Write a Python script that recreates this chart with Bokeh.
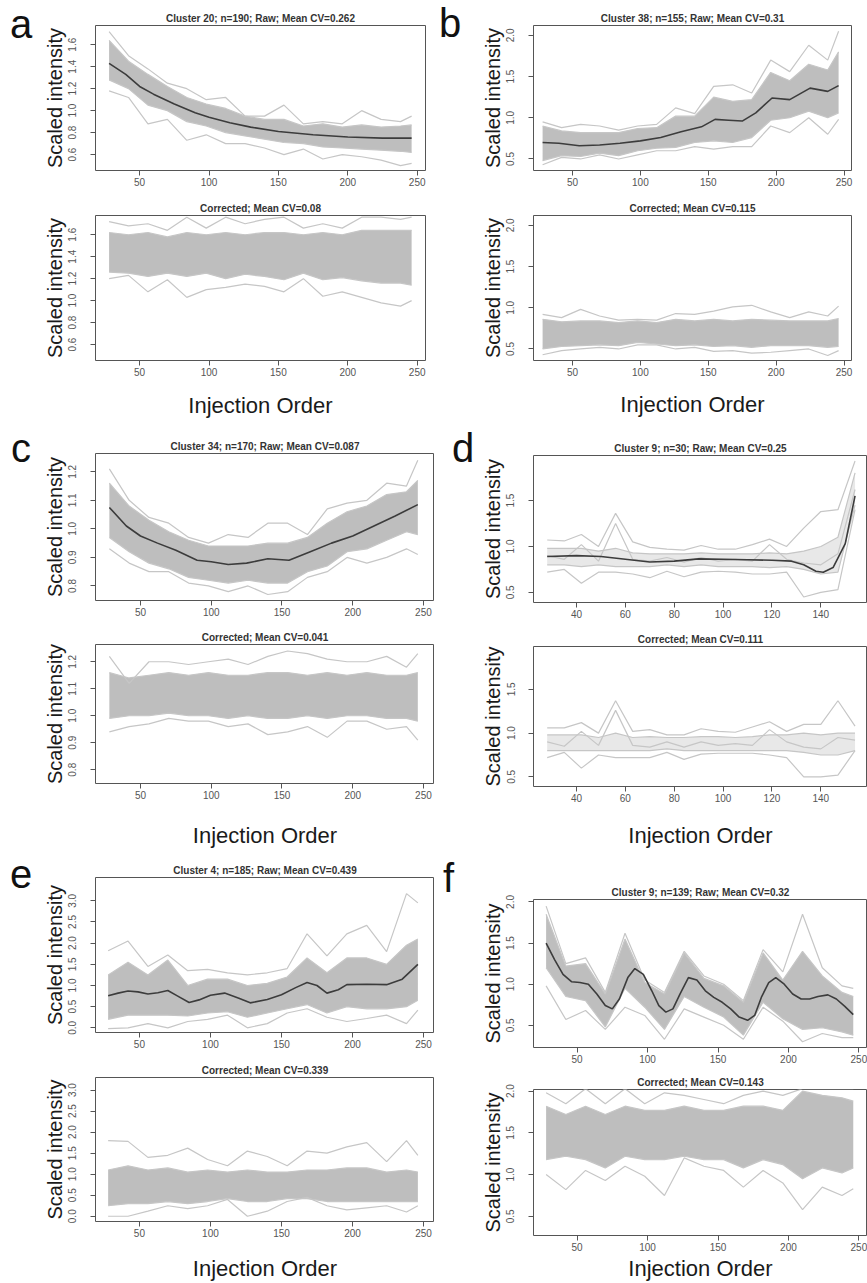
from bokeh.plotting import figure
from bokeh.layouts import column, row
from bokeh.models import Range1d, FixedTicker, NumeralTickFormatter, Div
from bokeh.embed import file_html
from bokeh.resources import INLINE

FONT = "Liberation Sans"
GRAY = "#bebebe"

# ---------------- data ----------------
X14 = [28, 42, 56, 70, 84, 98, 112, 126, 140, 154, 168, 182, 196, 210, 224, 238, 246]
X7 = [28, 35, 42, 49, 56, 63, 70, 77, 84, 91, 98, 105, 112, 119, 126, 133, 140, 147, 154]

X_TICKS_250 = [50, 100, 150, 200, 250]
X_TICKS_D = [40, 60, 80, 100, 120, 140]

# panel a
a_titles = ["Cluster 20; n=190; Raw; Mean CV=0.262", "Corrected; Mean CV=0.08"]
a_yticks = [0.6, 0.8, 1.0, 1.2, 1.4, 1.6]
a_raw_max = [1.72, 1.50, 1.38, 1.25, 1.20, 1.10, 1.12, 0.95, 0.95, 1.05, 0.88, 0.90, 0.88, 1.00, 0.92, 0.90, 0.95]
a_raw_hi = [1.64, 1.45, 1.33, 1.22, 1.12, 1.06, 1.02, 0.95, 0.92, 0.92, 0.86, 0.88, 0.85, 0.87, 0.85, 0.86, 0.87]
a_raw_lo = [1.28, 1.20, 1.05, 1.00, 0.90, 0.86, 0.80, 0.77, 0.74, 0.71, 0.70, 0.67, 0.66, 0.65, 0.64, 0.63, 0.62]
a_raw_min = [1.18, 1.12, 0.88, 0.92, 0.73, 0.78, 0.70, 0.70, 0.66, 0.60, 0.65, 0.56, 0.60, 0.58, 0.55, 0.50, 0.52]
a_trend_x = [28, 40, 50, 60, 75, 90, 100, 115, 130, 150, 175, 200, 225, 246]
a_trend_y = [1.43, 1.33, 1.22, 1.15, 1.06, 0.98, 0.94, 0.89, 0.85, 0.81, 0.78, 0.76, 0.75, 0.75]
a_cor_max = [1.72, 1.68, 1.70, 1.64, 1.76, 1.66, 1.76, 1.70, 1.74, 1.76, 1.66, 1.70, 1.66, 1.76, 1.76, 1.74, 1.76]
a_cor_hi = [1.62, 1.60, 1.62, 1.58, 1.62, 1.60, 1.62, 1.60, 1.62, 1.62, 1.60, 1.62, 1.60, 1.64, 1.64, 1.64, 1.64]
a_cor_lo = [1.26, 1.25, 1.22, 1.25, 1.22, 1.25, 1.20, 1.24, 1.22, 1.19, 1.25, 1.19, 1.21, 1.18, 1.16, 1.16, 1.14]
a_cor_min = [1.20, 1.23, 1.08, 1.19, 1.03, 1.10, 1.12, 1.15, 1.13, 1.08, 1.20, 1.04, 1.08, 1.03, 0.98, 0.95, 1.00]

# panel b
b_titles = ["Cluster 38; n=155; Raw; Mean CV=0.31", "Corrected; Mean CV=0.115"]
b_yticks = [0.5, 1.0, 1.5, 2.0]
b_raw_max = [0.95, 0.88, 0.92, 0.90, 0.85, 0.90, 0.92, 1.12, 1.05, 1.38, 1.40, 1.30, 1.70, 1.56, 1.88, 1.70, 2.05]
b_raw_hi = [0.90, 0.84, 0.82, 0.82, 0.82, 0.87, 0.88, 1.02, 1.02, 1.25, 1.20, 1.22, 1.55, 1.45, 1.65, 1.58, 1.80]
b_raw_lo = [0.48, 0.54, 0.53, 0.57, 0.54, 0.60, 0.63, 0.64, 0.70, 0.72, 0.70, 0.76, 0.97, 1.00, 1.08, 1.00, 1.06]
b_raw_min = [0.43, 0.52, 0.50, 0.55, 0.50, 0.55, 0.60, 0.60, 0.65, 0.62, 0.65, 0.65, 0.90, 0.82, 1.00, 0.80, 0.98]
b_trend_x = [28, 40, 55, 70, 85, 100, 115, 130, 145, 155, 165, 175, 185, 197, 210, 225, 238, 246]
b_trend_y = [0.70, 0.69, 0.66, 0.67, 0.69, 0.72, 0.76, 0.83, 0.89, 0.98, 0.97, 0.96, 1.06, 1.24, 1.22, 1.36, 1.32, 1.39]
b_cor_max = [0.92, 0.88, 0.98, 0.90, 0.85, 0.86, 0.85, 0.93, 0.92, 0.96, 1.01, 1.03, 0.95, 0.88, 0.95, 0.90, 1.02]
b_cor_hi = [0.86, 0.83, 0.84, 0.84, 0.82, 0.84, 0.82, 0.86, 0.84, 0.86, 0.84, 0.86, 0.85, 0.84, 0.84, 0.84, 0.87]
b_cor_lo = [0.50, 0.53, 0.54, 0.55, 0.54, 0.58, 0.56, 0.54, 0.55, 0.53, 0.54, 0.52, 0.54, 0.54, 0.54, 0.52, 0.53]
b_cor_min = [0.43, 0.48, 0.50, 0.52, 0.50, 0.55, 0.55, 0.50, 0.52, 0.47, 0.48, 0.45, 0.46, 0.48, 0.50, 0.42, 0.48]

# panel c
c_titles = ["Cluster 34; n=170; Raw; Mean CV=0.087", "Corrected; Mean CV=0.041"]
c_yticks = [0.8, 0.9, 1.0, 1.1, 1.2]
c_raw_max = [1.21, 1.10, 1.04, 1.02, 0.97, 0.95, 0.98, 0.97, 1.02, 1.02, 0.98, 1.07, 1.09, 1.10, 1.16, 1.15, 1.24]
c_raw_hi = [1.16, 1.08, 1.03, 0.99, 0.96, 0.94, 0.94, 0.94, 0.95, 0.95, 0.97, 1.02, 1.06, 1.08, 1.12, 1.13, 1.17]
c_raw_lo = [0.97, 0.92, 0.88, 0.86, 0.83, 0.82, 0.81, 0.82, 0.81, 0.81, 0.85, 0.87, 0.92, 0.93, 0.96, 0.99, 0.98]
c_raw_min = [0.93, 0.88, 0.85, 0.85, 0.81, 0.80, 0.78, 0.80, 0.77, 0.78, 0.83, 0.85, 0.90, 0.88, 0.90, 0.93, 0.91]
c_trend_x = [28, 40, 50, 62, 75, 90, 100, 112, 125, 140, 155, 170, 185, 200, 215, 230, 246]
c_trend_y = [1.075, 1.01, 0.975, 0.95, 0.925, 0.89, 0.885, 0.875, 0.88, 0.895, 0.89, 0.92, 0.95, 0.975, 1.01, 1.045, 1.085]
c_cor_max = [1.22, 1.12, 1.20, 1.20, 1.19, 1.20, 1.21, 1.19, 1.22, 1.24, 1.23, 1.21, 1.20, 1.20, 1.22, 1.18, 1.23]
c_cor_hi = [1.16, 1.14, 1.15, 1.16, 1.15, 1.16, 1.15, 1.15, 1.16, 1.16, 1.15, 1.16, 1.15, 1.16, 1.15, 1.15, 1.16]
c_cor_lo = [0.99, 1.00, 1.00, 1.01, 1.00, 1.00, 0.99, 1.00, 0.99, 0.99, 1.00, 0.99, 1.00, 1.00, 0.99, 0.99, 0.98]
c_cor_min = [0.94, 0.96, 0.97, 0.99, 0.98, 0.98, 0.96, 0.97, 0.93, 0.94, 0.96, 0.92, 0.98, 0.98, 0.95, 0.96, 0.91]

# panel d
d_titles = ["Cluster 9; n=30; Raw; Mean CV=0.25", "Corrected; Mean CV=0.111"]
d_yticks = [0.5, 1.0, 1.5]
d_raw_max = [1.07, 1.06, 1.13, 1.00, 1.36, 1.05, 0.99, 0.97, 0.96, 1.01, 0.97, 0.97, 1.02, 1.08, 1.00, 1.20, 1.38, 1.40, 1.93]
d_raw_hi = [0.98, 0.98, 0.98, 0.95, 0.98, 0.93, 0.92, 0.92, 0.92, 0.93, 0.92, 0.92, 0.92, 0.93, 0.92, 0.95, 1.00, 1.10, 1.80]
d_raw_lo = [0.80, 0.80, 0.78, 0.80, 0.78, 0.78, 0.78, 0.80, 0.78, 0.80, 0.78, 0.78, 0.78, 0.77, 0.78, 0.75, 0.70, 0.72, 1.45]
d_raw_min = [0.72, 0.75, 0.60, 0.72, 0.72, 0.70, 0.66, 0.73, 0.67, 0.72, 0.73, 0.72, 0.70, 0.70, 0.72, 0.45, 0.50, 0.53, 1.40]
d_raw_mid = [0.90, 0.86, 1.02, 0.84, 1.25, 0.86, 0.84, 0.88, 0.83, 0.88, 0.84, 0.86, 0.84, 1.02, 0.86, 0.82, 0.80, 0.92, 1.62]
d_trend_x = [28, 40, 50, 60, 70, 80, 90, 100, 110, 120, 128, 133, 138, 141, 145, 150, 154]
d_trend_y = [0.89, 0.90, 0.89, 0.86, 0.83, 0.84, 0.865, 0.86, 0.855, 0.85, 0.84, 0.80, 0.73, 0.72, 0.77, 1.03, 1.55]
d_cor_max = [1.06, 1.06, 1.12, 1.00, 1.37, 1.02, 1.04, 0.98, 0.98, 1.05, 1.02, 1.01, 1.07, 1.13, 1.02, 1.10, 1.10, 1.37, 1.08]
d_cor_hi = [0.98, 0.98, 0.98, 0.95, 1.00, 0.95, 0.96, 0.95, 0.95, 0.96, 0.96, 0.95, 0.96, 0.98, 0.98, 1.00, 0.98, 1.00, 1.00]
d_cor_lo = [0.80, 0.80, 0.80, 0.80, 0.80, 0.80, 0.80, 0.82, 0.80, 0.80, 0.80, 0.80, 0.80, 0.80, 0.80, 0.78, 0.75, 0.75, 0.80]
d_cor_min = [0.72, 0.78, 0.60, 0.75, 0.72, 0.72, 0.72, 0.78, 0.70, 0.76, 0.77, 0.77, 0.77, 0.75, 0.72, 0.50, 0.50, 0.52, 0.80]
d_cor_mid = [0.90, 0.85, 1.02, 0.86, 1.26, 0.86, 0.84, 0.90, 0.84, 0.90, 0.86, 0.88, 0.86, 1.04, 0.90, 0.84, 0.82, 0.95, 0.92]

# panel e
e_titles = ["Cluster 4; n=185; Raw; Mean CV=0.439", "Corrected; Mean CV=0.339"]
e_yticks = [0.0, 0.5, 1.0, 1.5, 2.0, 2.5, 3.0]
e_raw_max = [1.82, 2.05, 1.45, 1.72, 1.35, 1.38, 1.30, 1.25, 1.30, 1.40, 2.22, 1.70, 2.22, 2.42, 1.80, 3.17, 2.95]
e_raw_hi = [1.25, 1.55, 1.25, 1.60, 1.00, 1.15, 1.15, 1.00, 1.05, 1.20, 1.65, 1.30, 1.65, 1.65, 1.50, 1.95, 2.10]
e_raw_lo = [0.20, 0.30, 0.30, 0.30, 0.28, 0.35, 0.38, 0.25, 0.35, 0.45, 0.55, 0.35, 0.50, 0.45, 0.45, 0.50, 0.65]
e_raw_min = [-0.02, 0.00, 0.10, 0.00, 0.15, 0.20, 0.30, 0.00, 0.10, 0.35, 0.45, 0.25, 0.15, 0.22, 0.30, 0.10, 0.42]
e_trend_x = [28, 35, 42, 49, 56, 63, 70, 77, 85, 92, 100, 110, 120, 128, 140, 150, 160, 168, 175, 182, 190, 196, 210, 224, 235, 246]
e_trend_y = [0.76, 0.82, 0.87, 0.85, 0.80, 0.83, 0.88, 0.75, 0.60, 0.66, 0.77, 0.82, 0.70, 0.59, 0.67, 0.78, 0.95, 1.07, 1.00, 0.82, 0.90, 1.02, 1.03, 1.02, 1.15, 1.50]
e_cor_max = [1.80, 1.78, 1.40, 1.45, 1.62, 1.35, 1.20, 1.55, 1.42, 1.20, 1.55, 1.50, 1.65, 1.75, 1.30, 1.80, 1.45]
e_cor_hi = [1.10, 1.20, 1.10, 1.15, 1.05, 1.10, 1.05, 1.10, 1.05, 1.05, 1.10, 1.10, 1.15, 1.15, 1.05, 1.10, 1.05]
e_cor_lo = [0.25, 0.30, 0.30, 0.35, 0.30, 0.35, 0.42, 0.35, 0.35, 0.42, 0.42, 0.35, 0.35, 0.35, 0.35, 0.35, 0.35]
e_cor_min = [0.00, 0.00, 0.12, 0.25, 0.18, 0.25, 0.40, 0.00, 0.12, 0.35, 0.45, 0.25, 0.15, 0.20, 0.25, 0.10, 0.25]

# panel f
f_titles = ["Cluster 9; n=139; Raw; Mean CV=0.32", "Corrected; Mean CV=0.143"]
f_yticks = [0.5, 1.0, 1.5, 2.0]
f_raw_max = [1.95, 1.25, 1.32, 0.90, 1.62, 1.05, 0.90, 1.40, 1.10, 1.00, 0.80, 1.42, 1.15, 1.85, 1.20, 0.98, 0.95]
f_raw_hi = [1.85, 1.22, 1.25, 0.88, 1.55, 1.02, 0.88, 1.38, 1.07, 0.98, 0.78, 1.38, 1.05, 1.40, 1.10, 0.90, 0.85]
f_raw_lo = [1.20, 0.85, 0.80, 0.48, 0.95, 0.72, 0.45, 0.85, 0.72, 0.60, 0.38, 0.78, 0.58, 0.45, 0.47, 0.42, 0.38]
f_raw_min = [0.98, 0.57, 0.68, 0.45, 0.72, 0.62, 0.33, 0.70, 0.60, 0.50, 0.33, 0.72, 0.55, 0.30, 0.40, 0.35, 0.35]
f_trend_x = [28, 34, 40, 46, 52, 58, 64, 70, 75, 80, 86, 91, 97, 103, 108, 113, 118, 123, 129, 135,
             141, 147, 153, 159, 165, 171, 176, 181, 186, 191, 197, 203, 209, 215, 221, 228, 234, 240, 246]
f_trend_y = [1.50, 1.30, 1.12, 1.03, 1.02, 1.00, 0.88, 0.74, 0.70, 0.82, 1.08, 1.19, 1.12, 0.92, 0.74, 0.66, 0.70, 0.88, 1.08, 1.05,
             0.92, 0.84, 0.78, 0.70, 0.60, 0.56, 0.62, 0.85, 1.02, 1.08, 1.00, 0.88, 0.82, 0.82, 0.85, 0.87, 0.82, 0.73, 0.63]
f_cor_max = [1.98, 1.85, 2.03, 1.85, 2.03, 1.85, 1.98, 1.95, 1.90, 1.85, 1.95, 2.00, 1.95, 2.03, 2.03, 2.03, 2.03]
f_cor_hi = [1.82, 1.72, 1.82, 1.72, 1.82, 1.77, 1.77, 1.82, 1.77, 1.77, 1.82, 1.82, 1.77, 2.00, 1.95, 1.92, 1.88]
f_cor_lo = [1.18, 1.22, 1.18, 1.08, 1.22, 1.18, 1.18, 1.22, 1.18, 1.18, 1.08, 1.18, 1.12, 0.95, 1.08, 1.02, 1.08]
f_cor_min = [1.00, 0.82, 1.05, 0.93, 1.10, 0.98, 0.75, 1.20, 1.10, 1.05, 0.85, 1.05, 0.90, 0.58, 0.85, 0.75, 0.83]


def make(w, h, border, xr, yr, xticks, yticks, title, x, mx, hi, lo, mn,
         tx=None, ty=None, xlabel=None, xl_standoff=12, core_alpha=1.0, mid=None):
    l, t, r, b = border
    p = figure(width=w, height=h, x_range=Range1d(*xr), y_range=Range1d(*yr),
               output_backend="svg", toolbar_location=None,
               min_border_left=l, min_border_top=t, min_border_right=r, min_border_bottom=b,
               title=title)
    p.title.text_font = FONT
    p.title.text_font_style = "bold"
    p.title.text_font_size = "10px"
    p.title.text_color = "#333333"
    p.title.align = "center"
    p.title.standoff = 3
    p.xgrid.grid_line_color = None
    p.ygrid.grid_line_color = None
    p.outline_line_color = "#555555"
    p.outline_line_width = 1
    p.background_fill_color = "white"
    p.border_fill_color = "white"

    for ax in (p.xaxis[0], p.yaxis[0]):
        ax.axis_line_color = None
        ax.major_tick_line_color = "#555555"
        ax.major_tick_out = 5
        ax.major_tick_in = 0
        ax.minor_tick_line_color = None
        ax.major_label_text_font = FONT
        ax.major_label_text_font_size = "10px"
        ax.major_label_text_color = "#555555"
        ax.axis_label_text_font = FONT
        ax.axis_label_text_font_style = "normal"
        ax.axis_label_text_color = "#1a1a1a"

    p.xaxis.ticker = FixedTicker(ticks=xticks)
    p.xaxis.formatter = NumeralTickFormatter(format="0")
    p.xaxis.major_label_standoff = 2
    if xlabel:
        p.xaxis.axis_label = xlabel
        p.xaxis.axis_label_text_font_size = "22px"
        p.xaxis.axis_label_standoff = xl_standoff

    p.yaxis.ticker = FixedTicker(ticks=yticks)
    p.yaxis.formatter = NumeralTickFormatter(format="0.0")
    p.yaxis.major_label_orientation = "vertical"
    p.yaxis.major_label_standoff = 14
    p.yaxis.axis_label = "Scaled intensity"
    p.yaxis.axis_label_text_font_size = "20px"
    p.yaxis.axis_label_standoff = 0

    p.varea(x=x, y1=lo, y2=hi, fill_color=GRAY, fill_alpha=core_alpha)
    for ys in (mx, hi, lo, mn):
        p.line(x=x, y=ys, line_color="#c6c6c6", line_width=1.2)
    if mid is not None:
        p.line(x=x, y=mid, line_color="#c6c6c6", line_width=1.2)
    if tx is not None:
        p.line(x=tx, y=ty, line_color="#3c3c3c", line_width=1.6)
    return p


def letter_div(letter, w, h, dx, baseline):
    # 40px font in a 34px line box: the baseline sits about 31px below the box top
    top = max(0, int(round(baseline - 31)))
    html = ('<div style="position:relative; left:%dpx; top:%dpx; font-family:\'Liberation Sans\', sans-serif; '
            'font-size:40px; line-height:34px; color:#111111;">%s</div>' % (dx, top, letter))
    return Div(text=html, width=w, height=h, margin=(0, 0, 0, 0))


XR_A = (18.2, 256.0)
XR_B = (21.3, 255.5)
XR_C = (18.2, 257.8)
XR_E = (19.1, 257.7)
XR_F = (19.05, 256.1)
XR_D = (22.4, 159.1)

LW = 40   # width of letter strip, left column
RW = 44   # width of letter strip, right column

a1 = make(434 - LW, 190, (94 - LW, 25, 9, 20), XR_A, (0.455, 1.775), X_TICKS_250, a_yticks, a_titles[0],
          X14, a_raw_max, a_raw_hi, a_raw_lo, a_raw_min, a_trend_x, a_trend_y)
a2 = make(434 - LW, 230, (94 - LW, 25, 9, 60), XR_A, (0.455, 1.775), X_TICKS_250, a_yticks, a_titles[1],
          X14, a_cor_max, a_cor_hi, a_cor_lo, a_cor_min, xlabel="Injection Order", xl_standoff=14)
b1 = make(433 - RW, 190, (86 - RW, 25, 16, 20), XR_B, (0.36, 2.12), X_TICKS_250, b_yticks, b_titles[0],
          X14, b_raw_max, b_raw_hi, b_raw_lo, b_raw_min, b_trend_x, b_trend_y)
b2 = make(433 - RW, 230, (86 - RW, 25, 16, 60), XR_B, (0.36, 2.12), X_TICKS_250, b_yticks, b_titles[1],
          X14, b_cor_max, b_cor_hi, b_cor_lo, b_cor_min, xlabel="Injection Order", xl_standoff=13)
c1 = make(434 - LW, 200, (95 - LW, 33, 0, 20), XR_C, (0.749, 1.264), X_TICKS_250, c_yticks, c_titles[0],
          X14, c_raw_max, c_raw_hi, c_raw_lo, c_raw_min, c_trend_x, c_trend_y)
c2 = make(434 - LW, 230, (95 - LW, 24, 0, 60), XR_C, (0.749, 1.264), X_TICKS_250, c_yticks, c_titles[1],
          X14, c_cor_max, c_cor_hi, c_cor_lo, c_cor_min, xlabel="Injection Order", xl_standoff=21)
d1 = make(433 - RW, 200, (97 - RW, 35, 0, 18), XR_D, (0.39, 1.99), X_TICKS_D, d_yticks, d_titles[0],
          X7, d_raw_max, d_raw_hi, d_raw_lo, d_raw_min, d_trend_x, d_trend_y,
          core_alpha=0.35, mid=d_raw_mid)
d2 = make(433 - RW, 230, (96 - RW, 26, 0, 58), XR_D, (0.39, 1.99), X_TICKS_D, d_yticks, d_titles[1],
          X7, d_cor_max, d_cor_hi, d_cor_lo, d_cor_min, xlabel="Injection Order", xl_standoff=18,
          core_alpha=0.35, mid=d_cor_mid)
e1 = make(434 - LW, 200, (94 - LW, 27, 0, 18), XR_E, (-0.11, 3.55), X_TICKS_250, e_yticks, e_titles[0],
          X14, e_raw_max, e_raw_hi, e_raw_lo, e_raw_min, e_trend_x, e_trend_y)
e2 = make(434 - LW, 233, (94 - LW, 27, 0, 60), XR_E, (-0.125, 3.3), X_TICKS_250, e_yticks, e_titles[1],
          X14, e_cor_max, e_cor_hi, e_cor_lo, e_cor_min, xlabel="Injection Order", xl_standoff=16)
f1 = make(433 - RW, 215, (96 - RW, 49, 0, 18), XR_F, (0.23, 2.03), X_TICKS_250, f_yticks, f_titles[0],
          X14, f_raw_max, f_raw_hi, f_raw_lo, f_raw_min, f_trend_x, f_trend_y)
f2 = make(433 - RW, 218, (96 - RW, 24, 0, 48), XR_F, (0.27, 2.02), X_TICKS_250, f_yticks, f_titles[1],
          X14, f_cor_max, f_cor_hi, f_cor_lo, f_cor_min, xlabel="Injection Order", xl_standoff=2)

layout = column(
    row(letter_div("a", LW, 420, 10, 38), column(a1, a2),
        letter_div("b", RW, 420, 5, 37), column(b1, b2)),
    row(letter_div("c", LW, 430, 11, 42), column(c1, c2),
        letter_div("d", RW, 430, 18, 42), column(d1, d2)),
    row(letter_div("e", LW, 433, 10, 38), column(e1, e2),
        letter_div("f", RW, 433, 9, 42), column(f1, f2)),
)

open("out.html", "w").write(file_html(layout, INLINE))
